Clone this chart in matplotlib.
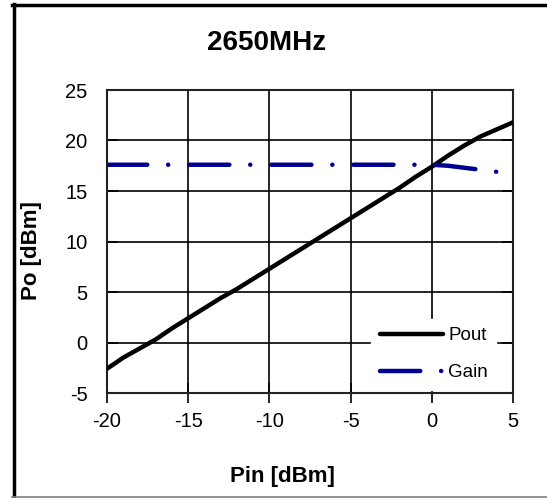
import numpy as np
import matplotlib
matplotlib.use('Agg')
import matplotlib.pyplot as plt
from matplotlib.lines import Line2D

plt.rcParams['font.family'] = ['Liberation Sans', 'DejaVu Sans']
plt.rcParams['axes.unicode_minus'] = False
plt.rcParams['lines.scale_dashes'] = False

# data
pin = [-20, -19, -18, -17, -16, -15, -14, -13, -12, -11, -10, -9, -8, -7, -6,
       -5, -4, -3, -2, -1, 0, 1, 2, 3, 4, 5]
pout = [-2.6, -1.5, -0.6, 0.3, 1.4, 2.4, 3.4, 4.4, 5.3, 6.3, 7.3, 8.3, 9.3, 10.3,
        11.3, 12.3, 13.3, 14.3, 15.3, 16.4, 17.4, 18.5, 19.5, 20.4, 21.1, 21.8]
gain = [17.6, 17.6, 17.6, 17.6, 17.6, 17.6, 17.6, 17.6, 17.6, 17.6, 17.6, 17.6,
        17.6, 17.6, 17.6, 17.6, 17.6, 17.6, 17.6, 17.6, 17.6, 17.5, 17.3, 17.1,
        16.9, 16.8]

W, H = 547, 498
fig = plt.figure(figsize=(W / 100, H / 100), dpi=100)
ax = fig.add_axes([107 / W, 1 - 393 / H, 406 / W, 303 / H])

ax.plot(pin, pout, color='black', lw=3.2, label='Pout', solid_capstyle='round', zorder=3)
ax.plot(pin, gain, color='#000090', lw=3.2, label='Gain', zorder=3,
        linestyle=(0, (29, 15, 0.1, 15)), dash_capstyle='round')

ax.set_xlim(-20, 5)
ax.set_ylim(-5, 25)
ax.set_xticks(np.arange(-20, 6, 5))
ax.set_yticks(np.arange(-5, 26, 5))
ax.grid(True, color='black', lw=1.2)
ax.set_axisbelow(True)
for s in ax.spines.values():
    s.set_linewidth(1.5)
    s.set_color('#222222')
ax.tick_params(axis='x', direction='inout', length=14, width=1.2, labelsize=14.5, pad=7)
ax.tick_params(axis='y', direction='in', length=8, width=1.2, labelsize=14.5, pad=14,
               right=True)

fig.text(267 / W, 1 - 43 / H, '2650MHz', fontsize=20, fontweight='bold',
         ha='center', va='center')
fig.text(282 / W, 1 - 476 / H, 'Pin [dBm]', fontsize=16, fontweight='bold',
         ha='center', va='center')
fig.text(31 / W, 1 - 251 / H, 'Po [dBm]', fontsize=16, fontweight='bold',
         ha='center', va='center', rotation=90)

leg = ax.legend(loc='center', bbox_to_anchor=(0.805, 0.128), frameon=True,
                fontsize=13.5, handlelength=3.35, handletextpad=0.3,
                labelspacing=1.05, borderpad=0.45, fancybox=False)
leg.get_frame().set_edgecolor('white')
leg.get_frame().set_facecolor('white')
leg.get_frame().set_alpha(1.0)

# outer chart border
fig.add_artist(Line2D([13.5 / W, 13.5 / W], [0, 1 - 4 / H], color='black', lw=2.5,
                      transform=fig.transFigure))
fig.add_artist(Line2D([12 / W, 1], [1 - 5 / H, 1 - 5 / H], color='black', lw=2.5,
                      transform=fig.transFigure))
fig.add_artist(Line2D([12 / W, 1], [1.5 / H, 1.5 / H], color='#808080', lw=1.2,
                      transform=fig.transFigure))

fig.savefig('out.png', dpi=100)
